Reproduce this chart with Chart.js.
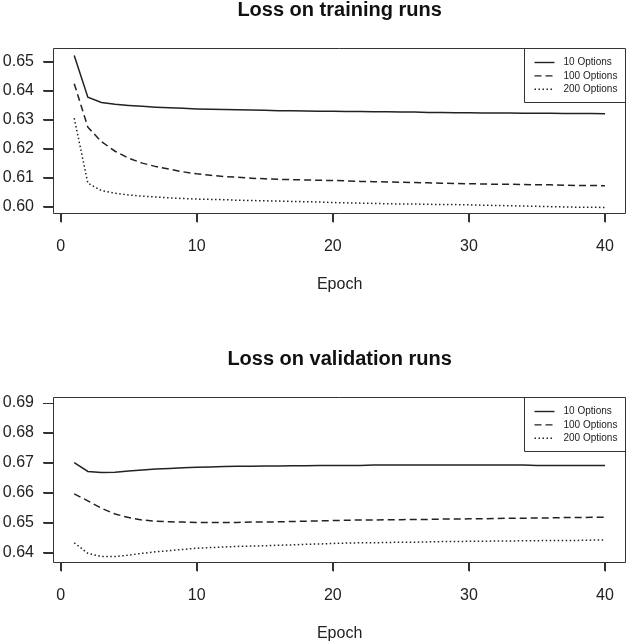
<!DOCTYPE html>
<html>
<head>
<meta charset="utf-8">
<script src="https://cdn.jsdelivr.net/npm/chart.js@4.4.1/dist/chart.umd.min.js"></script>
<style>
  html, body { margin: 0; padding: 0; background: #fff; }
  .plot { position: absolute; left: 0; width: 629px; height: 294px; }
  #trainWrap { top: 0; }
  #validWrap { top: 349px; }
</style>
</head>
<body>
<div class="plot" id="trainWrap"><canvas id="trainChart" width="629" height="294"></canvas></div>
<div class="plot" id="validWrap"><canvas id="validChart" width="629" height="294"></canvas></div>
<script>
// Data
const epochs = [1,2,3,4,5,6,7,8,9,10,11,12,13,14,15,16,17,18,19,20,
                21,22,23,24,25,26,27,28,29,30,31,32,33,34,35,36,37,38,39,40];
const seriesNames = ['10 Options', '100 Options', '200 Options'];

const train10 = [0.6522,0.6378,0.6360,0.6354,0.6350,0.6347,0.6344,0.6342,0.6340,0.6338,
                 0.6337,0.6336,0.6335,0.6334,0.6333,0.6332,0.6332,0.6331,0.6330,0.6330,
                 0.6329,0.6329,0.6328,0.6328,0.6327,0.6327,0.6326,0.6326,0.6325,0.6325,
                 0.6324,0.6324,0.6324,0.6323,0.6323,0.6323,0.6322,0.6322,0.6322,0.6321];
const train100 = [0.6425,0.6275,0.6225,0.6192,0.6168,0.6151,0.6139,0.6130,0.6121,0.6114,
                  0.6109,0.6105,0.6102,0.6099,0.6097,0.6095,0.6094,0.6093,0.6092,0.6091,
                  0.6090,0.6088,0.6087,0.6086,0.6085,0.6084,0.6083,0.6082,0.6081,0.6080,
                  0.6079,0.6078,0.6078,0.6077,0.6076,0.6076,0.6075,0.6074,0.6074,0.6073];
const train200 = [0.6306,0.6082,0.6056,0.6047,0.6041,0.6037,0.6034,0.6031,0.6029,0.6027,
                  0.6026,0.6025,0.6023,0.6022,0.6021,0.6020,0.6019,0.6018,0.6017,0.6015,
                  0.6014,0.6013,0.6012,0.6011,0.6010,0.6010,0.6009,0.6008,0.6008,0.6007,
                  0.6006,0.6005,0.6004,0.6003,0.6002,0.6001,0.6000,0.5999,0.5999,0.5998];

const valid10 = [0.6701,0.6672,0.6668,0.6669,0.6673,0.6677,0.6680,0.6682,0.6684,0.6686,
                 0.6687,0.6688,0.6689,0.6689,0.6690,0.6690,0.6691,0.6691,0.6692,0.6692,
                 0.6692,0.6692,0.6693,0.6693,0.6693,0.6693,0.6693,0.6693,0.6693,0.6693,
                 0.6693,0.6693,0.6693,0.6693,0.6692,0.6692,0.6692,0.6692,0.6692,0.6692];
const valid100 = [0.6597,0.6574,0.6549,0.6530,0.6518,0.6510,0.6506,0.6504,0.6503,0.6502,
                  0.6502,0.6502,0.6502,0.6503,0.6503,0.6504,0.6505,0.6506,0.6507,0.6508,
                  0.6509,0.6510,0.6510,0.6511,0.6511,0.6512,0.6512,0.6513,0.6513,0.6514,
                  0.6514,0.6515,0.6516,0.6516,0.6517,0.6517,0.6518,0.6518,0.6519,0.6519];
const valid200 = [0.6434,0.6399,0.6388,0.6388,0.6393,0.6399,0.6404,0.6408,0.6412,0.6416,
                  0.6418,0.6420,0.6422,0.6423,0.6424,0.6426,0.6427,0.6429,0.6430,0.6432,
                  0.6433,0.6434,0.6434,0.6435,0.6436,0.6436,0.6437,0.6438,0.6438,0.6439,
                  0.6439,0.6440,0.6440,0.6441,0.6441,0.6442,0.6442,0.6442,0.6443,0.6443];

// Tick labels
const xTicks = [0, 10, 20, 30, 40];
const trainYTicks = [0.60, 0.61, 0.62, 0.63, 0.64, 0.65];
const validYTicks = [0.64, 0.65, 0.66, 0.67, 0.68, 0.69];

const FONT = '"Liberation Sans", Arial, Helvetica, sans-serif';
const INK = '#222';
const dashes = [[], [7, 4], [1.5, 2.5]];
const TICK_X = 9, TICK_Y = 10;

// R-style tick marks just outside the plot box
const tickMarks = {
    id: 'tickMarks',
    beforeDatasetsDraw(chart) {
        const ctx = chart.ctx;
        const a = chart.chartArea;
        const xs = chart.scales.x, ys = chart.scales.y;
        const L = Math.round(a.left) + 0.5, B = Math.round(a.bottom) + 0.5;
        ctx.save();
        ctx.strokeStyle = '#333';
        ctx.lineWidth = 1;
        ctx.setLineDash([]);
        ctx.beginPath();
        xs.ticks.forEach(t => {
            const px = Math.round(xs.getPixelForValue(t.value)) + 0.5;
            ctx.moveTo(px, B);
            ctx.lineTo(px, B + TICK_X);
        });
        ys.ticks.forEach(t => {
            const py = Math.round(ys.getPixelForValue(t.value)) + 0.5;
            ctx.moveTo(L, py);
            ctx.lineTo(L - TICK_Y, py);
        });
        ctx.stroke();
        ctx.restore();
    }
};

// Box round the plot region and the legend at top right
const boxAndLegend = {
    id: 'boxAndLegend',
    afterDraw(chart) {
        const ctx = chart.ctx;
        const a = chart.chartArea;
        const L = Math.round(a.left) + 0.5, T = Math.round(a.top) + 0.5;
        const R = Math.round(a.right) - 0.5, B = Math.round(a.bottom) + 0.5;
        ctx.save();
        ctx.strokeStyle = '#333';
        ctx.lineWidth = 1;
        ctx.setLineDash([]);
        ctx.beginPath();
        ctx.moveTo(L, T); ctx.lineTo(R, T); ctx.lineTo(R, B); ctx.lineTo(L, B); ctx.closePath();
        // legend frame
        const lx = R - 101, lh = 54;
        ctx.moveTo(lx, T); ctx.lineTo(lx, T + lh); ctx.lineTo(R, T + lh);
        ctx.stroke();

        ctx.font = '10px ' + FONT;
        ctx.textBaseline = 'middle';
        ctx.textAlign = 'left';
        chart.data.datasets.forEach((ds, i) => {
            const y = T + 14 + i * 13.4;
            ctx.beginPath();
            ctx.setLineDash(ds.borderDash || []);
            ctx.strokeStyle = INK;
            ctx.lineWidth = 1.4;
            ctx.moveTo(lx + 10, y);
            ctx.lineTo(lx + 30, y);
            ctx.stroke();
            ctx.fillStyle = INK;
            ctx.fillText(ds.label, lx + 39, y);
        });
        ctx.restore();
    }
};

function makeChart(canvasId, title, series, yMin, yMax, yTicks) {
    const ctx = document.getElementById(canvasId).getContext('2d');
    return new Chart(ctx, {
        type: 'line',
        data: {
            datasets: series.map((vals, i) => ({
                label: seriesNames[i],
                data: epochs.map((e, j) => ({ x: e, y: vals[j] })),
                borderColor: INK,
                borderWidth: 1.5,
                borderDash: dashes[i],
                pointRadius: 0,
                tension: 0,
                fill: false
            }))
        },
        options: {
            responsive: false,
            animation: false,
            layout: { padding: { left: 0, right: 2, top: 0, bottom: 0 } },
            plugins: {
                legend: { display: false },
                tooltip: { enabled: false },
                title: {
                    display: true,
                    text: title,
                    fullSize: false,
                    color: '#111',
                    font: { family: FONT, size: 20, weight: 'bold', lineHeight: 1 },
                    padding: { top: 0, bottom: 28 }
                }
            },
            scales: {
                x: {
                    type: 'linear',
                    min: -0.56,
                    max: 41.56,
                    afterBuildTicks: s => { s.ticks = xTicks.map(v => ({ value: v })); },
                    afterFit: s => { s.height = 81; },
                    grid: { drawOnChartArea: false, drawTicks: true, tickLength: TICK_X, color: '#333' },
                    border: { display: false },
                    ticks: {
                        color: INK,
                        padding: 15,
                        maxRotation: 0,
                        autoSkip: false,
                        font: { family: FONT, size: 16 },
                        callback: v => String(v)
                    },
                    title: {
                        display: true,
                        text: 'Epoch',
                        color: INK,
                        padding: { top: 0, bottom: 0 },
                        font: { family: FONT, size: 16 }
                    }
                },
                y: {
                    min: yMin,
                    max: yMax,
                    afterBuildTicks: s => { s.ticks = yTicks.map(v => ({ value: v })); },
                    afterFit: s => { s.width = 53; },
                    grid: { drawOnChartArea: false, drawTicks: true, tickLength: TICK_Y, color: '#333' },
                    border: { display: false },
                    ticks: {
                        color: INK,
                        padding: 9,
                        autoSkip: false,
                        font: { family: FONT, size: 16 },
                        callback: v => v.toFixed(2)
                    }
                }
            }
        },
        plugins: [tickMarks, boxAndLegend]
    });
}

makeChart('trainChart', 'Loss on training runs', [train10, train100, train200], 0.5979, 0.6548, trainYTicks);
makeChart('validChart', 'Loss on validation runs', [valid10, valid100, valid200], 0.6370, 0.6920, validYTicks);
</script>
</body>
</html>
